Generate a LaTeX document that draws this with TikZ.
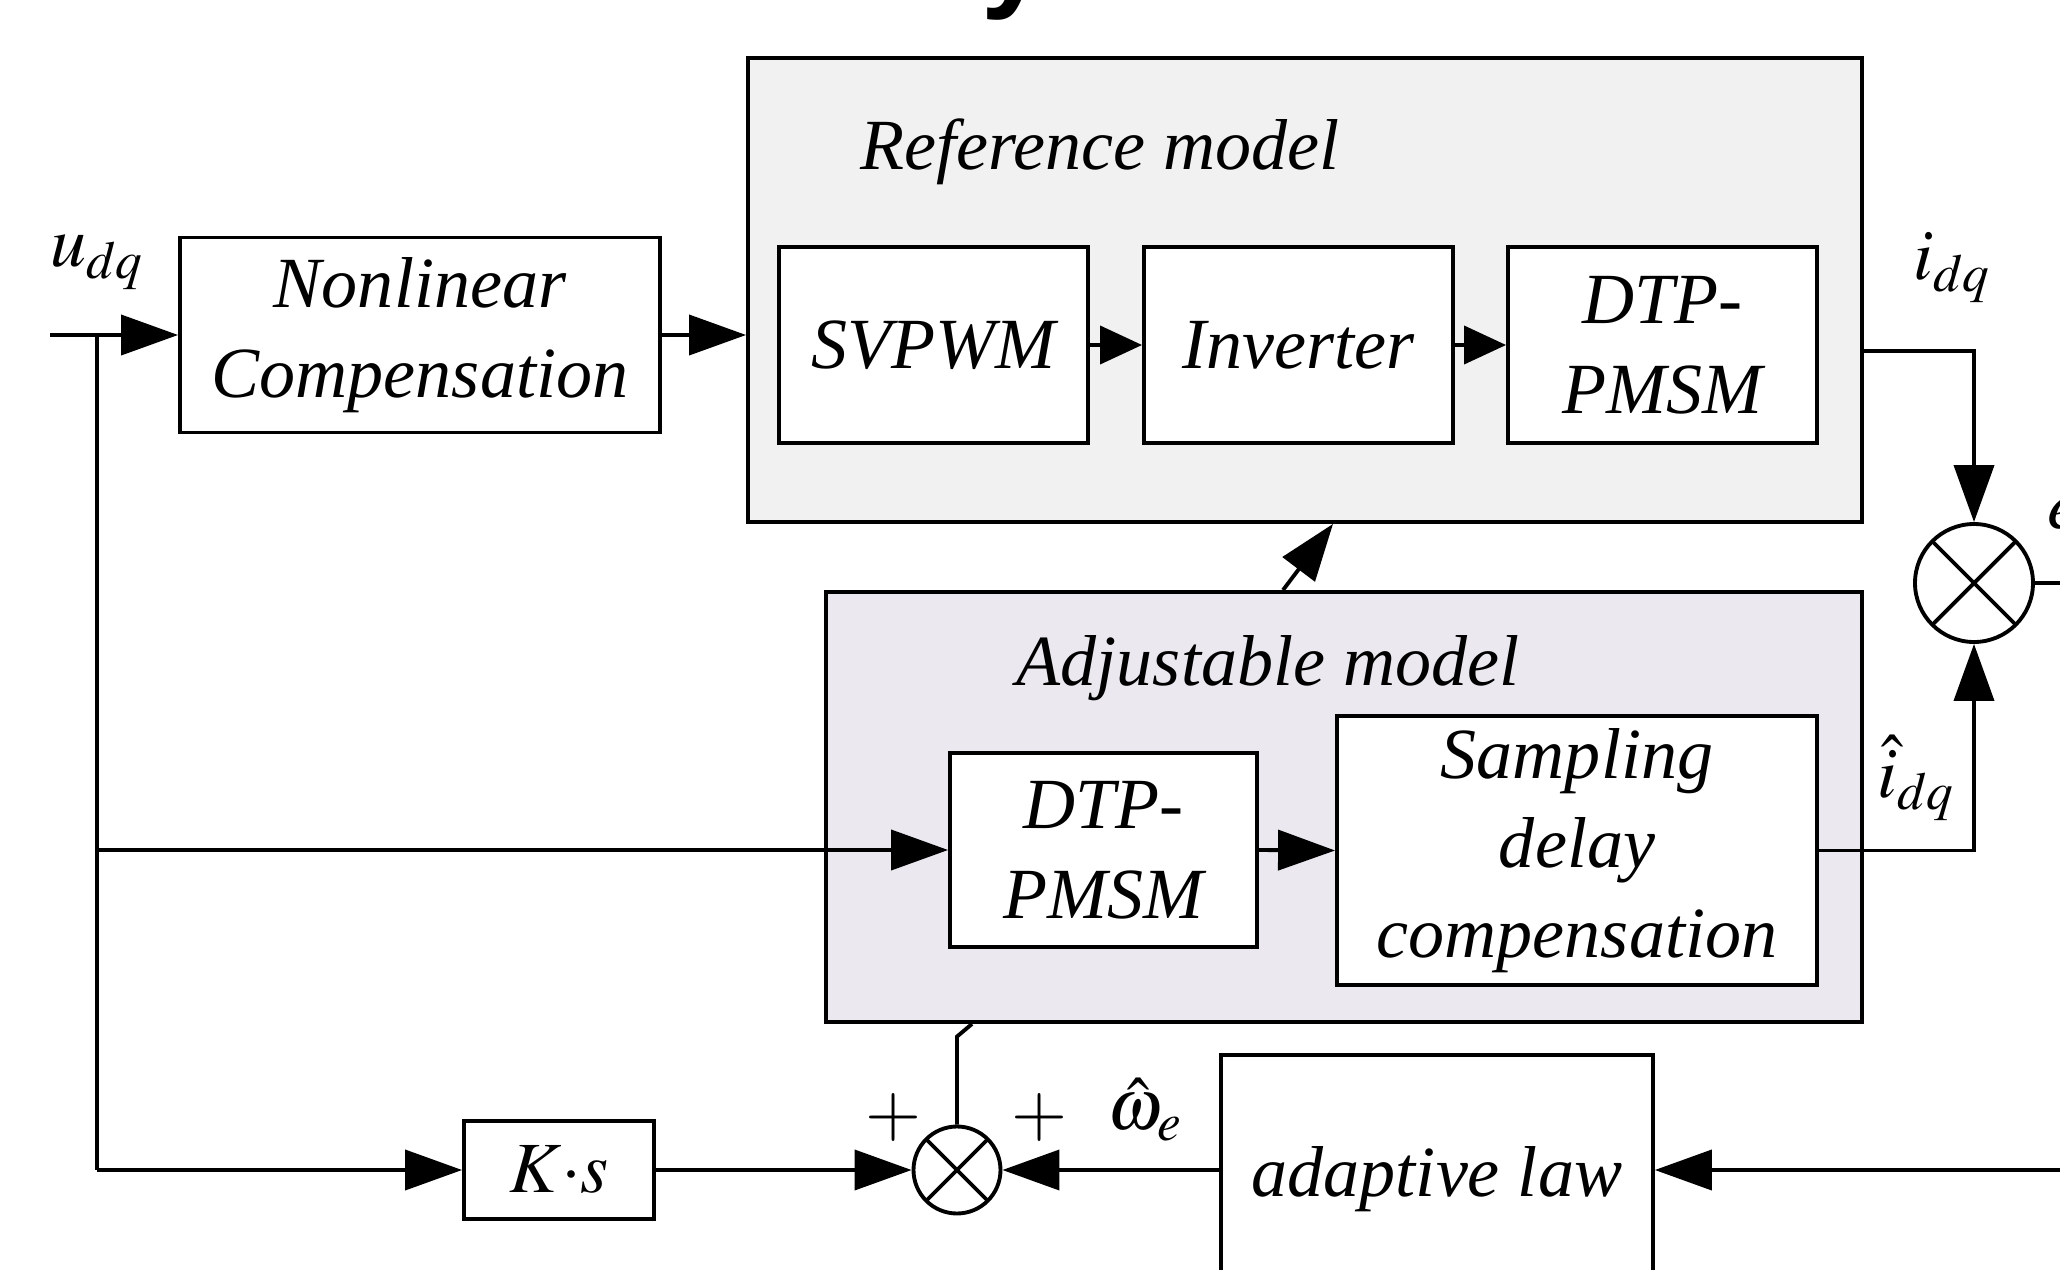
\documentclass[tikz,border=0pt]{standalone}
\usepackage{mathptmx}
\usepackage{fontspec}
\setmainfont{Liberation Serif}
\newfontfamily\headfont{Liberation Sans}
\usetikzlibrary{arrows.meta}
\definecolor{refgray}{RGB}{241,241,241}
\definecolor{adjgray}{RGB}{235,232,240}

\begin{document}
\begin{tikzpicture}[line width=1.1pt,
    font=\fontsize{20.5}{25.5}\selectfont\itshape,
    block/.style={draw, fill=white, align=center, inner sep=0pt},
    frame/.style={draw, inner sep=0pt},
    lbl/.style={inner sep=0pt},
    summer/.style={circle, draw, fill=white, inner sep=0pt,
      path picture={\draw (path picture bounding box.north west) -- (path picture bounding box.south east)
                          (path picture bounding box.north east) -- (path picture bounding box.south west);}},
    arr/.style={-{Triangle[length=5.7mm,width=4mm]}},
    arrshort/.style={-{Triangle[length=4.2mm,width=3.8mm]}}]
  \useasboundingbox (0,0) rectangle (20.6,-12.7);

  % cut title above the picture
  \node[anchor=base, inner sep=0pt, font=\headfont\bfseries\upshape\fontsize{34}{34}\selectfont] (ttl) at (10.15,0.05) {y};

  % Define the two model frames
  \node[frame, fill=refgray, minimum width=11.14cm, minimum height=4.64cm] (refbox) at (13.05,-2.90) {};
  \node[frame, fill=adjgray, minimum width=10.36cm, minimum height=4.30cm] (adjbox) at (13.44,-8.07) {};
  \node[lbl] (reftitle) at (11.0,-1.52) {Reference model};
  \node[lbl] (adjtitle) at (12.68,-6.68) {Adjustable model};

  % Define the blocks
  \node[block, minimum width=4.80cm, minimum height=1.95cm] (nlc) at (4.20,-3.35) {Nonlinear\\Compensation};
  \node[block, minimum width=3.09cm, minimum height=1.96cm] (svpwm) at (9.335,-3.45) {SVPWM};
  \node[block, minimum width=3.09cm, minimum height=1.96cm] (inv) at (12.985,-3.45) {Inverter};
  \node[block, minimum width=3.09cm, minimum height=1.96cm] (pmsmA) at (16.625,-3.45) {DTP-\\PMSM};
  \node[block, minimum width=3.07cm, minimum height=1.94cm] (pmsmB) at (11.035,-8.50) {DTP-\\PMSM};
  \node[block, minimum width=4.80cm, minimum height=2.69cm] (sdc) at (15.77,-8.505) {Sampling\\delay\\compensation};
  \node[block, minimum width=1.90cm, minimum height=0.98cm] (ks) at (5.59,-11.70) {$K{\cdot}s$};
  \node[block, anchor=north west, minimum width=4.32cm, minimum height=2.48cm] (adlaw) at (12.19,-10.53) {adaptive law};

  % Define the summing junctions
  \node[summer, minimum size=1.18cm] (sumA) at (19.74,-5.83) {};
  \node[summer, minimum size=0.87cm] (sumB) at (9.57,-11.70) {};

  % Define the free ends
  \coordinate (uin) at (0.50,-3.35);
  \coordinate (split) at (0.97,-3.35);
  \coordinate (eout) at (20.7,-5.83);
  \coordinate (rin) at (20.7,-11.70);

  % Draw the signal labels
  \node[lbl] (udq) at (0.97,-2.62) {$u_{dq}$};
  \node[lbl] (idq) at (19.52,-2.68) {$i_{dq}$};
  \node[lbl] (idqhat) at (19.16,-7.78) {$\hat{i}_{dq}$};
  \node[lbl] (what) at (11.45,-11.10) {$\hat{\omega}_e$};
  \node[lbl] (plusA) at (8.93,-11.17) {$+$};
  \node[lbl] (plusB) at (10.39,-11.17) {$+$};
  \node[lbl, anchor=west] (elab) at (20.46,-5.13) {$e$};

  % Draw the forward path
  \draw[arr] (uin) -- (nlc.west);
  \draw[arr] (nlc.east) -- (refbox.west |- nlc.east);
  \draw[arrshort] (svpwm) -- (inv);
  \draw[arrshort] (inv) -- (pmsmA);
  \draw[arr] (refbox.east |- 0,-3.51) -| (sumA.north);
  \draw (sumA.east) -- (eout);

  % Draw the adjustable path
  \draw (split) -- (0.97,-11.70);
  \draw[arr] (split |- pmsmB.west) -- (pmsmB.west);
  \draw[arr] (pmsmB.east) -- (sdc.west);
  \draw[arr] (sdc.east) -| (sumA.south);
  \draw[arr] ([xshift=-0.61cm]adjbox.north) -- ([xshift=0.28cm]refbox.south);

  % Draw the speed loop
  \draw[arr] (0.97,-11.70) -- (ks.west);
  \draw[arr] (ks.east) -- (sumB.west);
  \draw[arr] (adlaw.west |- sumB.east) -- (sumB.east);
  \draw[arr] (rin) -- (adlaw.east |- rin);
  \draw (sumB.north) -- ++(0,0.88) -- ([xshift=0.15cm]sumB.north |- adjbox.south);
\end{tikzpicture}
\end{document}
